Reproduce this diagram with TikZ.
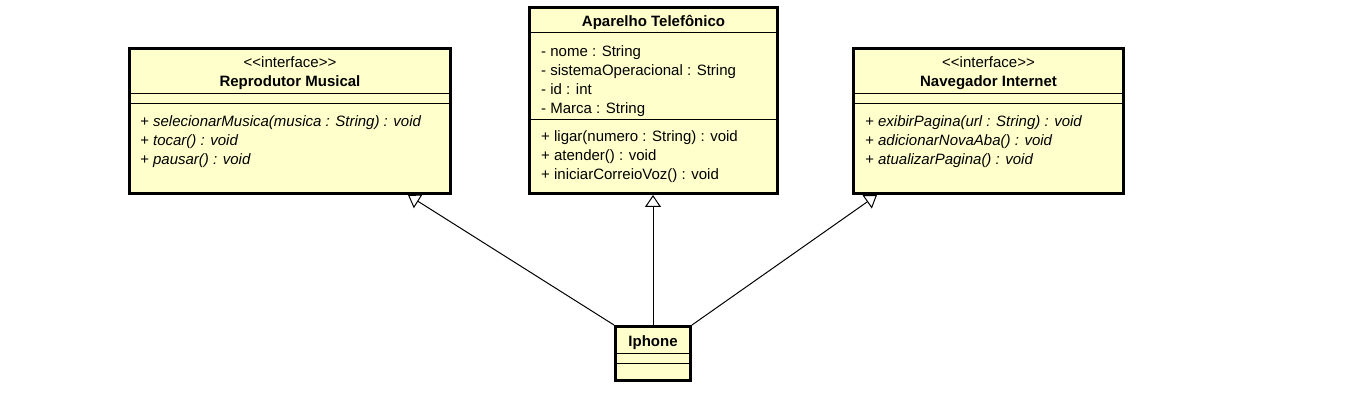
\documentclass[tikz,border=0pt]{standalone}
\usepackage{fontspec}
\setmainfont{Liberation Sans}
\usetikzlibrary{arrows.meta,positioning}
\definecolor{classfill}{RGB}{255,255,204}

\begin{document}
\begin{tikzpicture}[x=1pt,y=-1pt,
  class box/.style={draw,line width=3pt,fill=classfill,anchor=north west,inner sep=0pt},
  class name/.style={anchor=base,inner sep=0pt,font=\bfseries\fontsize{15}{19}\selectfont},
  stereo/.style={anchor=base,inner sep=0pt,font=\fontsize{15}{19}\selectfont},
  members/.style={anchor=north west,inner sep=0pt,align=left,font=\fontsize{15}{19}\selectfont},
  ops/.style={members,font=\itshape\fontsize{15}{19}\selectfont},
  sep/.style={line width=1pt},
  realize/.style={line width=1pt,-{Triangle[open,length=12pt,width=16pt,fill=white]}}]

\useasboundingbox (0,0) rectangle (1345,403);

% Reprodutor Musical (interface)
  \node[class box,minimum width=321pt,minimum height=145pt] (rep) at (128,47) {};
  \draw[sep] (rep.west |- 0,94) -- (rep.east |- 0,94);
  \draw[sep] (rep.west |- 0,104) -- (rep.east |- 0,104);
  \node[stereo] (rep-st) at (rep.north |- 0,68) {<\kern0pt<interface>\kern0pt>};
  \node[class name] (rep-name) at (rep.north |- 0,87) {Reprodutor Musical};
  \node[ops] (rep-ops) at (140,112.7) {\strut+ selecionarMusica(musica : String) : void\\
    + tocar() : void\\
    + pausar() : void};

% Aparelho Telefonico (class)
  \node[class box,minimum width=248pt,minimum height=186pt] (apa) at (528,6) {};
  \draw[sep] (apa.west |- 0,33) -- (apa.east |- 0,33);
  \draw[sep] (apa.west |- 0,120) -- (apa.east |- 0,120);
  \node[class name] (apa-name) at (apa.north |- 0,27) {Aparelho Telefônico};
  \node[members] (apa-attr) at (541,42.7) {\strut- nome : String\\
    - sistemaOperacional : String\\
    - id : int\\
    - Marca : String};
  \node[members] (apa-ops) at (541,127.7) {\strut+ ligar(numero : String) : void\\
    + atender() : void\\
    + iniciarCorreioVoz() : void};

% Navegador Internet (interface)
  \node[class box,minimum width=270pt,minimum height=145pt] (nav) at (852,47) {};
  \draw[sep] (nav.west |- 0,94) -- (nav.east |- 0,94);
  \draw[sep] (nav.west |- 0,104) -- (nav.east |- 0,104);
  \node[stereo] (nav-st) at (nav.north |- 0,68) {<\kern0pt<interface>\kern0pt>};
  \node[class name] (nav-name) at (nav.north |- 0,87) {Navegador Internet};
  \node[ops] (nav-ops) at (865,112.7) {\strut+ exibirPagina(url : String) : void\\
    + adicionarNovaAba() : void\\
    + atualizarPagina() : void};

% Iphone
  \node[class box,minimum width=75pt,minimum height=54pt] (iph) at (614,325) {};
  \draw[sep] (iph.west |- 0,354) -- (iph.east |- 0,354);
  \draw[sep] (iph.west |- 0,364) -- (iph.east |- 0,364);
  \node[class name] (iph-name) at (iph.north |- 0,347) {Iphone};

% realizations / generalization
  \coordinate (rep-tip) at (rep.south -| 408,0);
  \coordinate (nav-tip) at (nav.south -| 877,0);
  \draw[realize] (iph.north west) -- (rep-tip);
  \draw[realize] (iph.north) -- (iph.north |- apa.south);
  \draw[realize] (iph.north east) -- (nav-tip);

\end{tikzpicture}
\end{document}
